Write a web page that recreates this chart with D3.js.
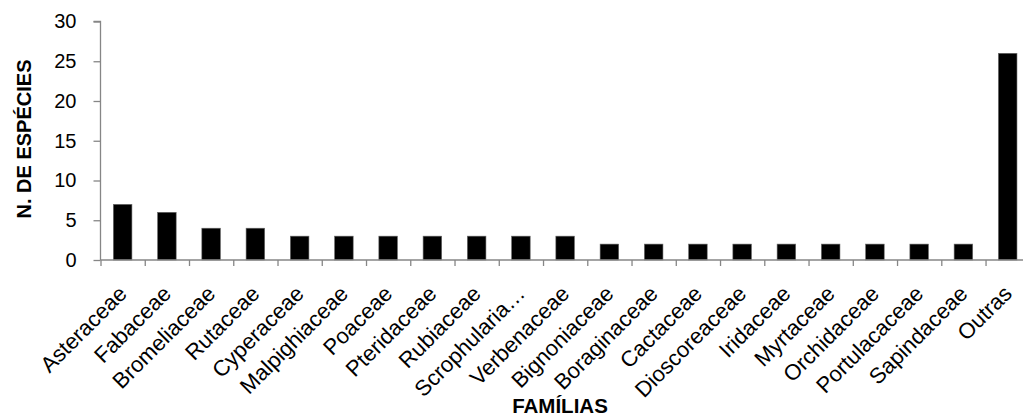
<!DOCTYPE html>
<html>
<head>
<meta charset="utf-8">
<script src="https://cdn.jsdelivr.net/npm/d3@7"></script>
<style>
  html, body { margin: 0; padding: 0; background: #fff; }
  svg { display: block; }
  text { font-family: "Liberation Sans", Arial, sans-serif; fill: #000; }
</style>
</head>
<body>
<svg id="chart" width="1023" height="416"></svg>
<script>
const categories = ["Asteraceae","Fabaceae","Bromeliaceae","Rutaceae","Cyperaceae","Malpighiaceae","Poaceae","Pteridaceae","Rubiaceae","Scrophularia…","Verbenaceae","Bignoniaceae","Boraginaceae","Cactaceae","Dioscoreaceae","Iridaceae","Myrtaceae","Orchidaceae","Portulacaceae","Sapindaceae","Outras"];
const values = [7,6,4,4,3,3,3,3,3,3,3,2,2,2,2,2,2,2,2,2,26];
const yTicks = [0,5,10,15,20,25,30];
const yTitle = "N. DE ESPÉCIES";
const xTitle = "FAMÍLIAS";

const svg = d3.select("#chart");
const pLeft = 100.5, pRight = 1029.8, pTop = 21.5, pBottom = 260;
const axisColor = "#868686";

const x = d3.scaleBand().domain(categories).range([pLeft, pRight]).paddingInner(0.58).paddingOuter(0.29);
const xEdge = d3.scaleLinear().domain([0, categories.length]).range([pLeft, pRight]);
const y = d3.scaleLinear().domain([0, 30]).range([pBottom, pTop]);

// bars
svg.append("g").selectAll("rect").data(values).join("rect")
  .attr("x", (d,i) => x(categories[i]))
  .attr("y", d => y(d))
  .attr("width", x.bandwidth())
  .attr("height", d => y(0) - y(d))
  .attr("fill", "#000")
  .attr("stroke", "#6a6a6a")
  .attr("stroke-width", 0.6);

// y axis
const yAxis = svg.append("g").attr("transform", `translate(${pLeft},0)`)
  .call(d3.axisLeft(y).tickValues(yTicks).tickSize(7).tickPadding(17));
yAxis.select(".domain").attr("stroke", axisColor).attr("stroke-width", 1.3).attr("d", `M-7,${pTop}H0V${pBottom}`);
yAxis.selectAll(".tick line").attr("stroke", axisColor).attr("stroke-width", 1.3);
yAxis.selectAll(".tick text").attr("font-size", 20).attr("font-family", "Liberation Sans, Arial, sans-serif").attr("fill", "#000");

// x axis boundary ticks
const xAxis = svg.append("g").attr("transform", `translate(0,${pBottom})`)
  .call(d3.axisBottom(xEdge).tickValues(d3.range(0, categories.length + 1)).tickSize(6).tickFormat(""));
xAxis.select(".domain").attr("stroke", axisColor).attr("stroke-width", 1.3).attr("d", `M${pLeft},0H${pRight}`);
xAxis.selectAll(".tick line").attr("stroke", axisColor).attr("stroke-width", 1.3);

// x labels
const xLab = svg.append("g").attr("transform", `translate(0,${pBottom})`)
  .call(d3.axisBottom(x).tickSize(0).tickPadding(0));
xLab.select(".domain").remove();
xLab.selectAll(".tick text")
  .attr("font-size", 22)
  .attr("font-family", "Liberation Sans, Arial, sans-serif")
  .attr("fill", "#000")
  .attr("text-anchor", "end")
  .attr("dy", 0)
  .attr("y", 0)
  .attr("transform", "translate(5.5,35) rotate(-45)");

// titles
svg.append("text")
  .attr("transform", `translate(30.5,139) rotate(-90)`)
  .attr("text-anchor", "middle")
  .attr("font-weight", "bold")
  .attr("font-size", 20)
  .text(yTitle);

svg.append("text")
  .attr("x", 560)
  .attr("y", 413)
  .attr("text-anchor", "middle")
  .attr("font-weight", "bold")
  .attr("font-size", 20.5)
  .text(xTitle);
</script>
</body>
</html>
